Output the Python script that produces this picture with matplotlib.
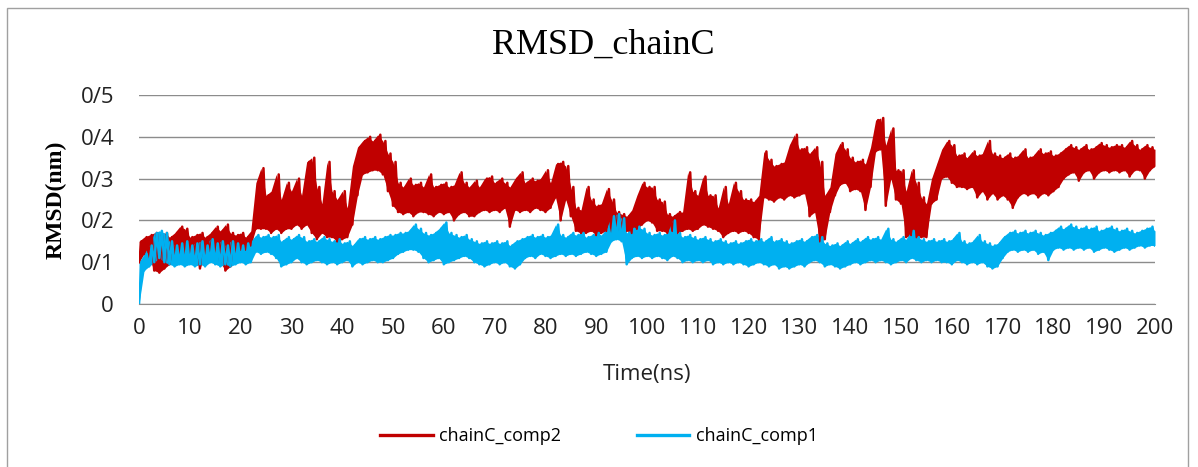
import numpy as np
import matplotlib
matplotlib.use("Agg")
import matplotlib.pyplot as plt
from matplotlib.patches import Rectangle
from matplotlib.ticker import FixedLocator, FixedFormatter

# time grid (ns), one upper and one lower reading per ns
time_ns = list(range(0, 201))

comp2_hi = [0.15,0.16,0.165,0.17,0.165,0.17,0.16,0.17,0.185,0.18,
            0.16,0.165,0.17,0.16,0.17,0.185,0.175,0.19,0.17,0.165,
            0.17,0.16,0.175,0.29,0.325,0.26,0.27,0.31,0.25,0.29,
            0.27,0.30,0.26,0.34,0.35,0.28,0.24,0.34,0.27,0.25,
            0.27,0.23,0.33,0.375,0.39,0.40,0.39,0.405,0.39,0.36,
            0.34,0.29,0.28,0.30,0.285,0.29,0.28,0.31,0.28,0.285,
            0.29,0.28,0.285,0.315,0.29,0.28,0.295,0.28,0.30,0.305,
            0.29,0.30,0.29,0.28,0.30,0.315,0.29,0.30,0.295,0.30,
            0.32,0.29,0.335,0.34,0.33,0.28,0.23,0.225,0.28,0.25,
            0.235,0.24,0.275,0.25,0.22,0.215,0.21,0.225,0.26,0.29,
            0.28,0.28,0.25,0.245,0.215,0.21,0.22,0.22,0.315,0.27,
            0.26,0.305,0.26,0.26,0.23,0.28,0.24,0.29,0.27,0.25,
            0.25,0.245,0.26,0.365,0.345,0.33,0.335,0.34,0.38,0.405,
            0.37,0.375,0.36,0.375,0.34,0.26,0.28,0.36,0.385,0.37,
            0.35,0.34,0.345,0.335,0.375,0.44,0.445,0.38,0.42,0.32,
            0.32,0.27,0.32,0.29,0.255,0.24,0.30,0.335,0.37,0.39,
            0.38,0.355,0.36,0.35,0.365,0.355,0.36,0.39,0.36,0.355,
            0.35,0.36,0.35,0.355,0.37,0.35,0.355,0.37,0.36,0.365,
            0.355,0.36,0.37,0.38,0.375,0.37,0.38,0.37,0.375,0.385,
            0.38,0.375,0.38,0.38,0.375,0.39,0.38,0.37,0.38,0.375,
            0.37]
comp2_lo = [0.10,0.12,0.11,0.08,0.075,0.085,0.095,0.11,0.11,0.12,
            0.12,0.115,0.085,0.12,0.12,0.12,0.10,0.08,0.09,0.12,
            0.13,0.13,0.14,0.18,0.18,0.18,0.17,0.18,0.17,0.18,
            0.18,0.19,0.18,0.19,0.17,0.155,0.17,0.16,0.16,0.15,
            0.155,0.16,0.19,0.26,0.31,0.315,0.32,0.32,0.31,0.27,
            0.235,0.22,0.215,0.22,0.21,0.22,0.22,0.215,0.21,0.22,
            0.215,0.22,0.20,0.215,0.22,0.21,0.21,0.22,0.225,0.22,
            0.225,0.22,0.23,0.185,0.225,0.22,0.225,0.22,0.23,0.225,
            0.22,0.23,0.255,0.20,0.25,0.21,0.175,0.17,0.17,0.175,
            0.165,0.17,0.175,0.17,0.17,0.17,0.175,0.17,0.18,0.19,
            0.20,0.195,0.175,0.175,0.17,0.175,0.17,0.175,0.18,0.175,
            0.18,0.19,0.185,0.18,0.175,0.16,0.17,0.175,0.17,0.175,
            0.17,0.16,0.155,0.255,0.25,0.245,0.255,0.25,0.26,0.255,
            0.26,0.265,0.21,0.22,0.15,0.155,0.22,0.26,0.285,0.29,
            0.27,0.275,0.27,0.225,0.28,0.365,0.37,0.235,0.30,0.25,
            0.24,0.16,0.165,0.16,0.16,0.16,0.24,0.25,0.30,0.305,
            0.29,0.28,0.28,0.275,0.28,0.255,0.27,0.25,0.265,0.25,
            0.26,0.25,0.23,0.255,0.265,0.26,0.265,0.255,0.265,0.26,
            0.27,0.28,0.30,0.31,0.315,0.295,0.315,0.32,0.30,0.315,
            0.32,0.315,0.32,0.315,0.32,0.305,0.32,0.32,0.30,0.32,
            0.33]
comp1_hi = [0.10,0.12,0.14,0.17,0.175,0.17,0.15,0.14,0.145,0.15,
            0.14,0.145,0.15,0.14,0.155,0.145,0.15,0.14,0.15,0.145,
            0.14,0.145,0.15,0.165,0.16,0.165,0.16,0.165,0.15,0.16,
            0.155,0.165,0.16,0.15,0.155,0.15,0.16,0.155,0.15,0.155,
            0.145,0.15,0.14,0.155,0.16,0.155,0.16,0.155,0.16,0.165,
            0.165,0.17,0.17,0.175,0.19,0.18,0.17,0.165,0.17,0.18,
            0.195,0.17,0.165,0.16,0.165,0.155,0.15,0.145,0.15,0.145,
            0.15,0.145,0.15,0.14,0.15,0.155,0.16,0.165,0.16,0.165,
            0.16,0.165,0.19,0.165,0.16,0.17,0.165,0.17,0.16,0.165,
            0.17,0.165,0.18,0.21,0.215,0.205,0.17,0.18,0.185,0.18,
            0.17,0.165,0.17,0.165,0.17,0.20,0.17,0.16,0.165,0.16,
            0.155,0.16,0.155,0.15,0.155,0.15,0.145,0.15,0.145,0.15,
            0.155,0.15,0.155,0.15,0.16,0.15,0.155,0.15,0.145,0.15,
            0.155,0.15,0.16,0.165,0.16,0.145,0.14,0.145,0.14,0.15,
            0.145,0.155,0.15,0.16,0.155,0.16,0.155,0.18,0.155,0.15,
            0.16,0.155,0.175,0.16,0.155,0.15,0.155,0.15,0.155,0.15,
            0.155,0.17,0.15,0.145,0.15,0.165,0.15,0.145,0.14,0.145,
            0.16,0.17,0.175,0.17,0.175,0.17,0.175,0.17,0.165,0.17,
            0.175,0.185,0.18,0.19,0.185,0.18,0.185,0.18,0.185,0.175,
            0.18,0.185,0.18,0.175,0.18,0.175,0.17,0.175,0.18,0.185,
            0.175]
comp1_lo = [0.0,0.08,0.09,0.10,0.11,0.10,0.095,0.09,0.095,0.09,
            0.095,0.09,0.095,0.09,0.10,0.095,0.09,0.095,0.09,0.095,
            0.10,0.095,0.10,0.125,0.12,0.125,0.12,0.11,0.09,0.095,
            0.10,0.11,0.10,0.095,0.10,0.105,0.10,0.095,0.10,0.095,
            0.10,0.105,0.09,0.10,0.095,0.10,0.105,0.10,0.10,0.105,
            0.11,0.12,0.125,0.13,0.13,0.125,0.11,0.10,0.105,0.11,
            0.095,0.10,0.105,0.11,0.115,0.11,0.10,0.095,0.09,0.095,
            0.10,0.095,0.10,0.09,0.085,0.095,0.11,0.115,0.11,0.12,
            0.115,0.11,0.115,0.12,0.115,0.12,0.115,0.12,0.125,0.12,
            0.115,0.12,0.125,0.15,0.155,0.15,0.095,0.11,0.115,0.11,
            0.115,0.11,0.115,0.11,0.105,0.115,0.11,0.10,0.105,0.10,
            0.105,0.10,0.105,0.095,0.10,0.095,0.10,0.095,0.10,0.095,
            0.09,0.095,0.10,0.095,0.09,0.095,0.085,0.09,0.085,0.09,
            0.095,0.09,0.10,0.105,0.10,0.09,0.095,0.09,0.085,0.09,
            0.095,0.10,0.095,0.10,0.105,0.10,0.105,0.10,0.095,0.10,
            0.105,0.10,0.11,0.105,0.10,0.105,0.10,0.105,0.10,0.10,
            0.095,0.105,0.10,0.095,0.10,0.095,0.10,0.09,0.085,0.09,
            0.11,0.125,0.13,0.125,0.13,0.125,0.13,0.12,0.125,0.105,
            0.13,0.135,0.13,0.135,0.13,0.135,0.13,0.135,0.125,0.13,
            0.135,0.13,0.125,0.13,0.135,0.13,0.135,0.14,0.135,0.14,
            0.14]

series_names = ["chainC_comp2", "chainC_comp1"]
series_colors = ["#C00000", "#00B0F0"]
y_ticks = [0, 0.1, 0.2, 0.3, 0.4, 0.5]
y_tick_labels = ["0", "0/1", "0/2", "0/3", "0/4", "0/5"]
x_ticks = list(range(0, 201, 10))


def zigzag(t, lo, hi):
    t = np.asarray(t, float)
    xs = np.empty(2 * len(t))
    ys = np.empty(2 * len(t))
    xs[0::2] = t
    xs[1::2] = t + 0.5
    ys[0::2] = lo
    ys[1::2] = hi
    keep = xs <= 200
    return xs[keep], ys[keep]


W, H = 1198, 467
fig = plt.figure(figsize=(W / 100, H / 100), dpi=100)
fig.patch.set_facecolor("white")

# outer chart border
fig.patches.append(Rectangle((7 / W, -0.02), (1188 - 7) / W, 1.02 - 8 / H,
                             transform=fig.transFigure, fill=False,
                             edgecolor="#A0A0A0", linewidth=1.0))

ax = fig.add_axes([139 / W, 1 - 304 / H, (1155 - 139) / W, (304 - 95) / H])

for name, col, lo, hi in [(series_names[0], series_colors[0], comp2_lo, comp2_hi),
                          (series_names[1], series_colors[1], comp1_lo, comp1_hi)]:
    ax.fill_between(time_ns, lo, hi, color=col, linewidth=0)
    xs, ys = zigzag(time_ns, lo, hi)
    ax.plot(xs, ys, color=col, linewidth=1.8, label=name)

ax.set_xlim(0, 200)
ax.set_ylim(0, 0.5)
ax.yaxis.set_major_locator(FixedLocator(y_ticks))
ax.yaxis.set_major_formatter(FixedFormatter(y_tick_labels))
ax.set_xticks(x_ticks)
ax.set_xticklabels([str(v) for v in x_ticks])
ax.grid(axis="y", color="#8C8C8C", linewidth=1.0)
ax.set_axisbelow(True)
for s in ["left", "right", "top"]:
    ax.spines[s].set_visible(False)
ax.spines["bottom"].set_color("#8C8C8C")
ax.tick_params(axis="both", length=0, labelsize=16, colors="#222222")
ax.tick_params(axis="y", pad=18)
ax.tick_params(axis="x", pad=10)
for lab in ax.get_xticklabels() + ax.get_yticklabels():
    lab.set_family("Open Sans")

ax.set_xlabel("Time(ns)", fontsize=16, family="Open Sans", labelpad=18, color="#222222")
ax.set_ylabel("RMSD(nm)", fontsize=17, family="Liberation Serif", fontweight="bold",
              labelpad=10)
fig.text(603 / W, 1 - 45 / H, "RMSD_chainC", ha="center", va="center",
         fontsize=26, family="Liberation Serif")

leg = fig.legend(loc="center", bbox_to_anchor=(599 / W, 1 - 436 / H), ncol=2,
                 frameon=False, handlelength=2.9, columnspacing=4.2,
                 handletextpad=0.35, prop={"family": "Open Sans", "size": 13})
for line in leg.get_lines():
    line.set_linewidth(2.4)

fig.savefig("out.png", dpi=100)
